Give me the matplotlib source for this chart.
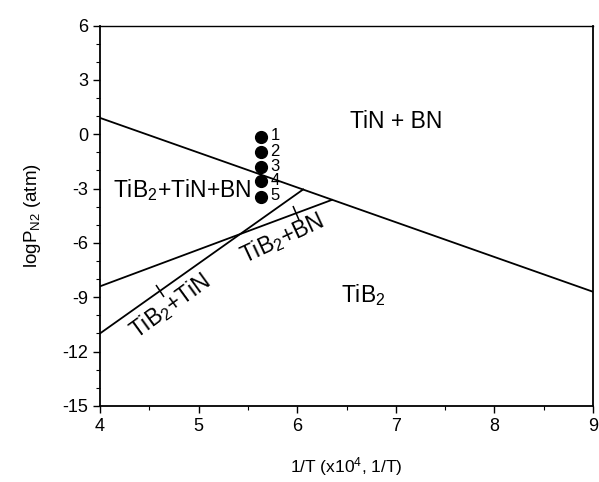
import numpy as np
import matplotlib
matplotlib.use('Agg')
import matplotlib.pyplot as plt
from matplotlib.markers import MarkerStyle
from matplotlib.transforms import Affine2D

plt.rcParams['font.family'] = ['Liberation Sans', 'DejaVu Sans']
plt.rcParams['mathtext.default'] = 'regular'
plt.rcParams['axes.unicode_minus'] = False

# phase boundaries (1/T x10^4, logPN2)
line1_x = [4.0, 9.0]
line1_y = [0.9, -8.7]
line2_x = [4.0, 6.35]
line2_y = [-8.4, -3.63]
line3_x = [4.0, 6.06]
line3_y = [-11.0, -3.05]

# small cross marks on the boundaries
mark2_x = [5.99]
mark2_y = [-4.35]
mark3_x = [4.61]
mark3_y = [-8.65]

# experimental points
pt_x = [5.63, 5.63, 5.63, 5.63, 5.63]
pt_y = [-0.13, -1.0, -1.8, -2.6, -3.45]
pt_lbl = ['1', '2', '3', '4', '5']

fig = plt.figure(figsize=(5.99, 4.82), dpi=100)
ax = fig.add_axes([0.167, 0.158, 0.823, 0.789])

lw = 1.3
ax.plot(line1_x, line1_y, color='k', lw=lw)
ax.plot(line2_x, line2_y, color='k', lw=lw)
ax.plot(line3_x, line3_y, color='k', lw=lw)

m2 = MarkerStyle('|', transform=Affine2D().rotate_deg(20))
m3 = MarkerStyle('|', transform=Affine2D().rotate_deg(35))
ax.plot(mark2_x, mark2_y, ls='none', marker=m2, ms=11, mew=1.1, color='k')
ax.plot(mark3_x, mark3_y, ls='none', marker=m3, ms=11, mew=1.1, color='k')

ax.plot(pt_x, pt_y, ls='none', marker='o', ms=8.5, color='k')
for x, y, s in zip(pt_x, pt_y, pt_lbl):
    ax.annotate(s, (x, y), xytext=(7, 0.5), textcoords='offset points',
                ha='left', va='center', fontsize=12)

ax.text(7.0, 0.7, 'TiN + BN', fontsize=16.5, ha='center', va='center')
ax.text(4.13, -3.1, 'TiB$_2$+TiN+BN', fontsize=16.5, ha='left', va='center')
ax.text(6.67, -8.9, 'TiB$_2$', fontsize=16.5, ha='center', va='center')
ax.text(4.71, -9.5, 'TiB$_2$+TiN', fontsize=16.5, ha='center', va='center',
        rotation=36, rotation_mode='anchor')
ax.text(5.85, -5.75, 'TiB$_2$+BN', fontsize=16.5, ha='center', va='center',
        rotation=25, rotation_mode='anchor')

ax.set_xlim(4, 9)
ax.set_ylim(-15, 6)
ax.set_xticks(np.arange(4, 9.1, 1))
ax.set_yticks(np.arange(-15, 6.1, 3))
ax.set_xticks(np.arange(4, 9.1, 0.5), minor=True)
ax.set_yticks(np.arange(-15, 6.1, 1), minor=True)
ax.tick_params(which='major', direction='out', length=5, width=1, labelsize=13)
ax.tick_params(which='minor', direction='out', length=3, width=0.8)
for sp in ax.spines.values():
    sp.set_linewidth(1.3)
ax.spines['top'].set_linewidth(1.0)

ax.set_xlabel('1/T (x10$^4$, 1/T)', fontsize=12.5, labelpad=15)
ax.set_ylabel('logP$_{N2}$ (atm)', fontsize=13.5, labelpad=14)

fig.savefig('out.png', dpi=100)
